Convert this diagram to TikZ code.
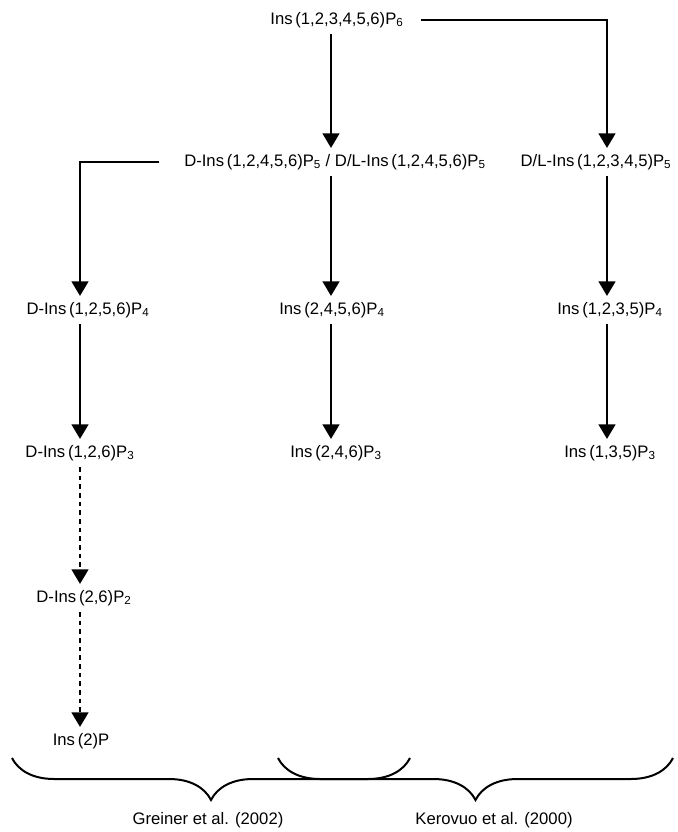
\documentclass[tikz,border=0pt]{standalone}
\usepackage{fontspec}
\setmainfont{Liberation Sans}
\usetikzlibrary{arrows.meta,decorations.pathreplacing}

\begin{document}
\begin{tikzpicture}[x=0.75pt, y=-0.75pt,
  met/.style={font=\fontsize{12.5}{15}\selectfont, inner sep=4.5pt},
  arr/.style={-{Triangle[length=11pt, width=12.5pt]}, line width=2pt},
  dotarr/.style={arr, dash pattern=on 3.5pt off 3pt},
  brc/.style={decorate, decoration={brace, mirror, amplitude=31.5pt}, line width=1.5pt},
  ref/.style={font=\fontsize{12.5}{15}\selectfont}]
  \useasboundingbox (0,0) rectangle (678,832);
  \coordinate (colL) at (80,0);
  \coordinate (colM) at (331,0);
  \coordinate (colR) at (607,0);

  \node[met] (p6) at (337,20) {Ins\,(1,2,3,4,5,6)P\textsubscript{6}};
  \node[met] (p5a) at (335,162) {D-Ins\,(1,2,4,5,6)P\textsubscript{5} / D/L-Ins\,(1,2,4,5,6)P\textsubscript{5}};
  \node[met] (p5b) at (596,162) {D/L-Ins\,(1,2,3,4,5)P\textsubscript{5}};
  \node[met] (p4a) at (88,310) {D-Ins\,(1,2,5,6)P\textsubscript{4}};
  \node[met] (p4b) at (332,310) {Ins\,(2,4,5,6)P\textsubscript{4}};
  \node[met] (p4c) at (610,310) {Ins\,(1,2,3,5)P\textsubscript{4}};
  \node[met] (p3a) at (80,453) {D-Ins\,(1,2,6)P\textsubscript{3}};
  \node[met] (p3b) at (336,453) {Ins\,(2,4,6)P\textsubscript{3}};
  \node[met] (p3c) at (610,453) {Ins\,(1,3,5)P\textsubscript{3}};
  \node[met] (p2) at (84,598) {D-Ins\,(2,6)P\textsubscript{2}};
  \node[met] (p1) at (81,741) {Ins\,(2)P};

  \draw[arr] (p6.south -| colM) -- (p5a.north -| colM);
  \draw[arr] ([xshift=8pt]p6.east) -| (p5b.north -| colR);
  \draw[arr] ([xshift=-14pt]p5a.west) -| (p4a.north -| colL);
  \draw[arr] (p5a.south -| colM) -- (p4b.north -| colM);
  \draw[arr] (p5b.south -| colR) -- (p4c.north -| colR);
  \draw[arr] (p4a.south -| colL) -- (p3a.north -| colL);
  \draw[arr] (p4b.south -| colM) -- (p3b.north -| colM);
  \draw[arr] (p4c.south -| colR) -- (p3c.north -| colR);
  \draw[dotarr] (p3a.south -| colL) -- (p2.north -| colL);
  \draw[dotarr] (p2.south -| colL) -- (p1.north -| colL);

  % literature braces
  \draw[brc] (12,758) -- (410,758);
  \draw[brc] (278,758) -- (673,758);
  \node[ref] (greiner) at (208,820) {Greiner et al. (2002)};
  \node[ref] (kerovuo) at (494,820) {Kerovuo et al. (2000)};
\end{tikzpicture}
\end{document}
